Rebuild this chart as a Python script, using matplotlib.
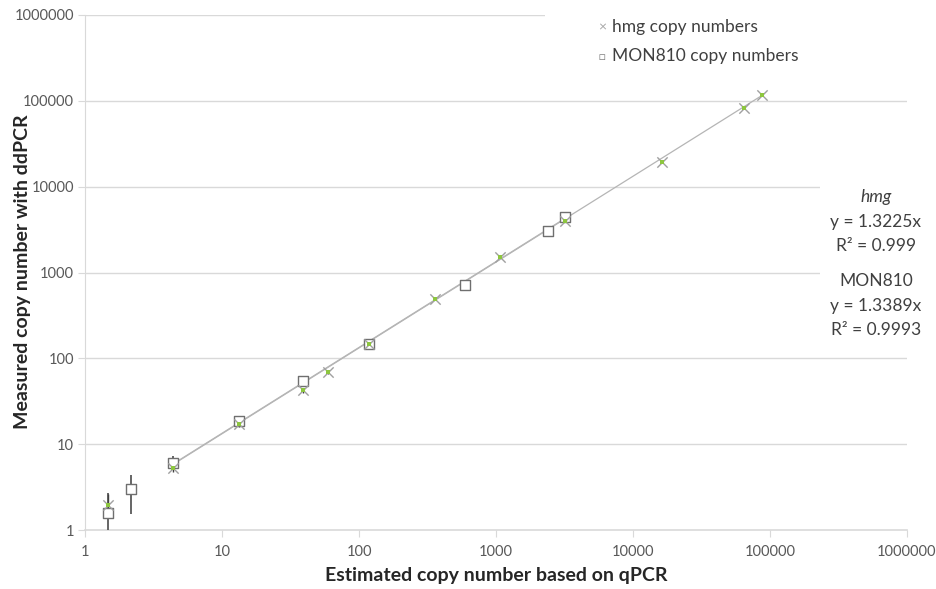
import matplotlib
matplotlib.use("Agg")
import matplotlib.pyplot as plt
import numpy as np

plt.rcParams['font.family'] = ['Lato', 'DejaVu Sans']

# qPCR estimates (x) and ddPCR measurements (y)
hmg_x = [1.47, 4.39, 13.3, 39, 59.4, 118, 359, 1070, 3190, 16290, 64600, 87400]
hmg_y = [1.96, 5.3, 17.2, 42.5, 70, 145, 492, 1520, 3990, 19500, 83000, 117500]
hmg_err_lo = [0.5, 0.6, 1.5, 3, 4, 8, 20, 50, 120, 400, 1500, 2000]
hmg_err_hi = [0.7, 0.6, 1.5, 3, 4, 8, 20, 50, 120, 400, 1500, 2000]

mon_x = [1.47, 2.17, 4.39, 13.3, 39, 118, 594, 2398, 3190]
mon_y = [1.58, 3.0, 6.04, 18.6, 54.6, 148, 717, 3055, 4446]
mon_err_lo = [0.63, 1.46, 1.1, 2.0, 5, 10, 30, 100, 150]
mon_err_hi = [1.12, 1.38, 1.26, 2.0, 5, 10, 30, 100, 150]

hmg_slope, hmg_r2 = 1.3225, 0.999
mon_slope, mon_r2 = 1.3389, 0.9993

x_ticks = [1, 10, 100, 1000, 10000, 100000, 1000000]
y_ticks = [1, 10, 100, 1000, 10000, 100000, 1000000]

fig = plt.figure(figsize=(9.37, 5.89), dpi=100)
ax = fig.add_axes([85 / 937, 1 - 530 / 589, 822 / 937, 515 / 589])
ax.set_xscale('log')
ax.set_yscale('log')
ax.set_xlim(1, 1e6)
ax.set_ylim(1, 1e6)

grid_c = '#d9d9d9'
for yt in y_ticks[1:]:
    ax.axhline(yt, color=grid_c, lw=1.0, zorder=0)

# linear trend lines through the origin
tx = np.array([4.39, max(hmg_x)])
ax.plot(tx, hmg_slope * tx, color='#b5b5b5', lw=0.9, zorder=1)
tm = np.array([4.39, max(mon_x)])
ax.plot(tm, mon_slope * tm, color='#b5b5b5', lw=0.9, zorder=1)

# error bars
ax.errorbar(mon_x, mon_y, yerr=[mon_err_lo, mon_err_hi], fmt='none',
            ecolor='#595959', elinewidth=1.3, capsize=0, zorder=2)
ax.errorbar(hmg_x, hmg_y, yerr=[hmg_err_lo, hmg_err_hi], fmt='none',
            ecolor='#404040', elinewidth=1.0, capsize=0, zorder=2)

# markers
ax.scatter(mon_x, mon_y, marker='s', s=45, facecolor='white',
           edgecolor='#6f6f6f', linewidth=1.0, zorder=3)
ax.scatter(hmg_x, hmg_y, marker='x', s=55, color='#a0a0a0',
           linewidth=1.0, zorder=4)
ax.scatter(hmg_x, hmg_y, marker='s', s=9, color='#8dc63f',
           linewidth=0, zorder=5)

# axes styling
for side in ['top', 'right', 'bottom']:
    ax.spines[side].set_visible(False)
ax.spines['left'].set_color(grid_c)
ax.axhline(1, color=grid_c, lw=1.2, zorder=0, clip_on=False)
ax.set_xticks(x_ticks)
ax.set_xticklabels([str(v) for v in x_ticks])
ax.set_yticks(y_ticks)
ax.set_yticklabels([str(v) for v in y_ticks])
ax.minorticks_off()
ax.tick_params(axis='x', length=5, color=grid_c, labelsize=10.5,
               labelcolor='#595959', pad=6)
ax.tick_params(axis='y', length=5, color=grid_c, labelsize=10.5,
               labelcolor='#595959', pad=3)

# axis titles
fig.text(496 / 937, 1 - 576 / 589, 'Estimated copy number based on qPCR',
         fontsize=14, fontweight='bold', color='#262626',
         ha='center', va='center')
fig.text(23 / 937, 1 - 272 / 589, 'Measured copy number with ddPCR',
         fontsize=14, fontweight='bold', color='#262626',
         ha='center', va='center', rotation=90)

# legend area
fig.patches.append(plt.Rectangle((545 / 937, 1 - 75 / 589), 392 / 937, 75 / 589,
                                 transform=fig.transFigure, facecolor='white',
                                 edgecolor='none', zorder=10))
fig.text(602 / 937, 1 - 27 / 589, '\u00d7', fontsize=10, color='#a6a6a6',
         ha='center', va='center', zorder=11)
fig.text(612 / 937, 1 - 27 / 589, 'hmg copy numbers', fontsize=12.5,
         color='#404040', ha='left', va='center', zorder=11)
fig.text(602 / 937, 1 - 56 / 589, '\u25a1', fontsize=8, color='#7f7f7f',
         ha='center', va='center', zorder=11)
fig.text(612 / 937, 1 - 56 / 589, 'MON810 copy numbers', fontsize=12.5,
         color='#404040', ha='left', va='center', zorder=11)

# regression equations
fig.patches.append(plt.Rectangle((820 / 937, 1 - 340 / 589), 117 / 937, 170 / 589,
                                 transform=fig.transFigure, facecolor='white',
                                 edgecolor='none', zorder=10))
cx = 876 / 937
eq_lines = [
    ('hmg', 197, 'italic'),
    ('y = {:.4f}x'.format(hmg_slope), 222, 'normal'),
    ('R\u00b2 = {}'.format(hmg_r2), 246, 'normal'),
    ('MON810', 281, 'normal'),
    ('y = {:.4f}x'.format(mon_slope), 306, 'normal'),
    ('R\u00b2 = {}'.format(mon_r2), 330, 'normal'),
]
for txt, py, style in eq_lines:
    fig.text(cx, 1 - py / 589, txt, fontsize=12.5, color='#404040',
             ha='center', va='center', style=style, zorder=11)

fig.savefig('out.png', dpi=100, facecolor='white')
